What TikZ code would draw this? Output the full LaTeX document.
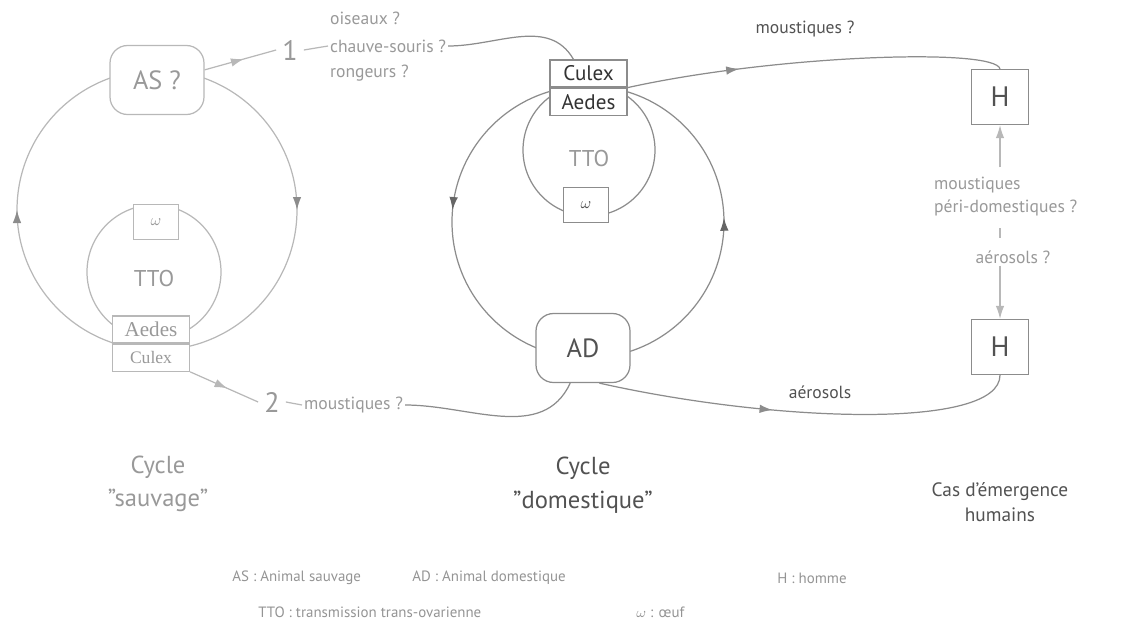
\documentclass[tikz,border=0pt]{standalone}
\usepackage{fontspec}
\setmainfont{PT Sans}
\newfontfamily\serifed{Liberation Serif}
\usepackage{xcolor}
\usepackage{tikz}
\usetikzlibrary{arrows.meta, positioning, decorations.markings}

\colorlet{wildgray}{black!28}
\colorlet{wildtext}{black!40}
\colorlet{wildtip}{black!45}
\colorlet{domgray}{black!45}
\colorlet{domtext}{black!68}
\colorlet{domtip}{black!60}
\colorlet{legtext}{black!42}

\begin{document}
\begin{tikzpicture}[
  hostbox/.style={rectangle, rounded corners=10pt, draw=#1, fill=white, line width=0.7pt, minimum width=1.88cm, minimum height=1.38cm, font=\fontsize{15}{18}\selectfont},
  vecbox/.style={rectangle, draw=#1, fill=white, line width=0.7pt, minimum width=1.54cm, minimum height=0.54cm, inner sep=0pt},
  eggbox/.style={rectangle, draw=#1, fill=white, line width=0.7pt, minimum width=0.9cm, minimum height=0.7cm, font=\small},
  hbox/.style={rectangle, draw=domgray, fill=white, line width=0.7pt, minimum width=1.14cm, minimum height=1.1cm, font=\fontsize{16}{18}\selectfont, text=domtext},
  loopline/.style={draw=#1, line width=0.7pt},
  looparrows/.style n args={3}{postaction={decorate}, decoration={markings, mark=at position #2 with {\arrow[color=#1]{Latex[length=2.6mm, width=1.7mm]}}, mark=at position #3 with {\arrow[color=#1]{Latex[length=2.6mm, width=1.7mm]}}}},
  midarrow/.style={postaction={decorate}, decoration={markings, mark=at position #1 with {\arrow{Latex[length=2.6mm, width=1.7mm]}}}},
  note/.style={font=\fontsize{10}{13}\selectfont, align=left, inner sep=1pt},
  cycletitle/.style={font=\fontsize{14}{19}\selectfont, align=center},
  legendtext/.style={font=\fontsize{8.5}{11}\selectfont, text=legtext, anchor=west, inner sep=0pt}
]
\useasboundingbox (0,0) rectangle (22.48,-12.52);

% wild cycle
\coordinate (wildc) at (3.14,-4.20);
\coordinate (wildin) at (3.08,-5.44);
\draw[loopline=wildgray, looparrows={wildtip}{0.25}{0.75}] ([yshift=2.8cm]wildc) arc[start angle=90, end angle=-270, radius=2.8cm];
\draw[loopline=wildgray] (wildin) circle[radius=1.34cm];

\node[hostbox=wildgray, text=wildtext] (aswild) at (3.14,-1.60) {AS ?};
\node[eggbox=wildgray, text=wildtext] (eggwild) at (3.12,-4.44) {$\omega$};
\node[text=wildtext, font=\fontsize{13}{15}\selectfont] (ttowild) at (3.08,-5.56) {TTO};
\node[vecbox=wildgray, text=wildtext, font=\serifed\fontsize{12}{14}\selectfont] (aedeswild) at (3.02,-6.59) {Aedes};
\node[vecbox=wildgray, text=wildtext, font=\serifed\fontsize{10}{12}\selectfont, below=0pt of aedeswild] (culexwild) {Culex};

% domestic cycle
\coordinate (domc) at (11.76,-4.44);
\coordinate (domin) at (11.78,-3.00);
\draw[loopline=domgray, looparrows={domtip}{0.236}{0.755}] ([yshift=2.72cm]domc) arc[start angle=90, end angle=450, radius=2.72cm];
\draw[loopline=domgray] (domin) circle[radius=1.32cm];

\node[vecbox=domgray, text=black!80, font=\fontsize{12}{14}\selectfont] (culexdom) at (11.77,-1.47) {Culex};
\node[vecbox=domgray, text=black!80, font=\fontsize{12}{14}\selectfont, below=0pt of culexdom] (aedesdom) {Aedes};
\node[text=wildtext, font=\fontsize{13}{15}\selectfont] (ttodom) at (11.78,-3.16) {TTO};
\node[eggbox=domgray, text=domtext] (eggdom) at (11.72,-4.10) {$\omega$};
\node[hostbox=domgray, text=domtext] (addom) at (11.66,-6.96) {AD};

% way 1
\node[font=\fontsize{16}{18}\selectfont, text=wildtext] (one) at (5.80,-1.00) {1};
\node[note, text=wildtext, anchor=west] (birds) at (6.56,-0.36) {oiseaux ?};
\node[note, text=wildtext, anchor=west] (bats) at (6.56,-0.92) {chauve-souris ?};
\node[note, text=wildtext, anchor=west] (rodents) at (6.56,-1.46) {rongeurs ?};
\draw[loopline=wildgray, midarrow=0.55] (aswild.12) -- (one.west);
\draw[loopline=wildgray] (one.east) -- (bats.west);
\draw[loopline=domgray] (bats.east) to[out=0, in=120] ([xshift=-0.3cm]culexdom.north);

% way 2
\node[font=\fontsize{16}{18}\selectfont, text=wildtext] (two) at (5.44,-8.04) {2};
\node[note, text=wildtext, anchor=west] (mosqbot) at (6.04,-8.10) {moustiques ?};
\draw[loopline=wildgray, midarrow=0.55] (culexwild.south east) -- (two.west);
\draw[loopline=wildgray] (two.east) -- (mosqbot.west);
\draw[loopline=domgray] (mosqbot.east) to[out=0, in=-115] (addom.-110);

% human cases
\node[hbox] (hup) at (20.00,-1.94) {H};
\node[hbox] (hdown) at (20.00,-6.94) {H};
\node[note, text=domtext] (mosqtop) at (16.10,-0.58) {moustiques ?};
\draw[loopline=domgray, midarrow=0.3] (culexdom.south east) .. controls (15.5,-1.1) and (19.9,-0.95) .. (hup.north);
\node[note, text=wildtext, anchor=west] (peri) at (18.64,-3.93) {moustiques\\péri-domestiques ?};
\node[note, text=wildtext] (aero) at (20.26,-5.14) {aérosols ?};
\draw[loopline=wildgray, -{Latex[length=2.6mm, width=1.7mm]}, shorten <=1.5mm] (hup.south |- peri.north) -- (hup.south);
\draw[loopline=wildgray, shorten <=2mm, shorten >=2mm] (hup.south |- peri.south) -- (hup.south |- aero.north);
\draw[loopline=wildgray, -{Latex[length=2.6mm, width=1.7mm]}] (hdown.north |- aero.south) -- (hdown.north);
\node[note, text=domtext] (aerobot) at (16.40,-7.84) {aérosols};
\draw[loopline=domgray, midarrow=0.42] (addom.-65) .. controls (15.5,-8.45) and (20.0,-8.6) .. (hdown.south);

% titles
\node[cycletitle, text=wildtext] (wildtitle) at (3.16,-9.68) {Cycle\\"sauvage"};
\node[cycletitle, text=domtext] (domtitle) at (11.66,-9.70) {Cycle\\"domestique"};
\node[note, align=center, text=domtext, font=\fontsize{11}{14}\selectfont] (emergence) at (20.00,-10.04) {Cas d'émergence\\humains};

% legend
\node[legendtext] (legas) at (4.64,-11.56) {AS : Animal sauvage};
\node[legendtext] (legad) at (8.24,-11.56) {AD : Animal domestique};
\node[legendtext] (legh) at (15.54,-11.56) {H : homme};
\node[legendtext] (legtto) at (5.16,-12.24) {TTO : transmission trans-ovarienne};
\node[legendtext] (legegg) at (12.72,-12.24) {$\omega$ : œuf};
\end{tikzpicture}
\end{document}
